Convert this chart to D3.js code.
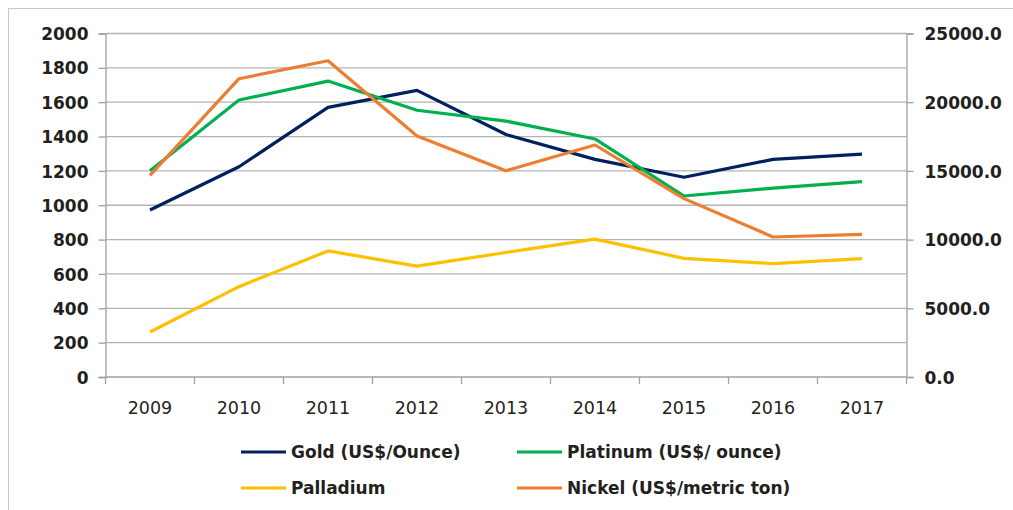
<!DOCTYPE html>
<html>
	<head>
		<meta charset="utf-8"/>
		<script type="text/javascript" src="https://cdn.jsdelivr.net/npm/d3@7/dist/d3.min.js"></script>
		<style>
			body {
				margin:0;
				background:#fff;
			}
			.ylab {
				font:bold 17px "DejaVu Sans", Verdana, sans-serif;
				fill:#231f20;
			}
			.xlab {
				font:17.5px "DejaVu Sans", Verdana, sans-serif;
				fill:#231f20;
				text-anchor:middle;
			}
			.legend text {
				font:bold 17px "DejaVu Sans", Verdana, sans-serif;
				fill:#231f20;
			}
		</style>
	</head>
	<body>
		<script>
			var years = ["2009", "2010", "2011", "2012", "2013", "2014", "2015", "2016", "2017"];
			var gold = [972, 1224, 1570, 1669, 1412, 1267, 1163, 1267, 1298];
			var platinum = [1201, 1613, 1723, 1553, 1490, 1386, 1054, 1100, 1137];
			var palladium = [262, 526, 734, 646, 725, 803, 691, 660, 689];
			var nickel = [14680, 21710, 23020, 17540, 15015, 16885, 12980, 10190, 10380];
			var leftTicks = [0, 200, 400, 600, 800, 1000, 1200, 1400, 1600, 1800, 2000];
			var rightTicks = [0, 5000, 10000, 15000, 20000, 25000];

			var width = 1013, height = 510;
			var plotLeft = 105.5, plotRight = 906.5, plotTop = 33.5, plotBottom = 377;

			var svg = d3.select("body").append("svg")
				.attr("width", width)
				.attr("height", height);

			// chart frame
			svg.append("rect")
				.attr("x", 8.5).attr("y", 8.5)
				.attr("width", 1030).attr("height", 530)
				.attr("fill", "none")
				.attr("stroke", "#c8c8c8");

			var x = d3.scaleBand().domain(years).range([plotLeft, plotRight]);
			var yL = d3.scaleLinear().domain([0, 2000]).range([plotBottom, plotTop]);
			var yR = d3.scaleLinear().domain([0, 25000]).range([plotBottom, plotTop]);

			// gridlines
			svg.append("g").selectAll("line")
				.data(leftTicks.slice(1))
				.enter().append("line")
				.attr("x1", plotLeft).attr("x2", plotRight)
				.attr("y1", function(d) { return yL(d); })
				.attr("y2", function(d) { return yL(d); })
				.attr("stroke", "#b4b4b4")
				.attr("stroke-width", 1.3);

			// left axis
			var axL = svg.append("g")
				.attr("transform", "translate(" + plotLeft + ",0)")
				.call(d3.axisLeft(yL).tickValues(leftTicks).tickSize(7).tickPadding(10).tickFormat(d3.format("d")));
			axL.selectAll("line, path").attr("stroke", "#a0a0a0").attr("stroke-width", 1.3);
			axL.selectAll("text").attr("class", "ylab").attr("dy", "0.36em").attr("fill", null);

			// right axis
			var axR = svg.append("g")
				.attr("transform", "translate(" + plotRight + ",0)")
				.call(d3.axisRight(yR).tickValues(rightTicks).tickSize(7).tickPadding(11).tickFormat(d3.format(".1f")));
			axR.selectAll("line, path").attr("stroke", "#a0a0a0").attr("stroke-width", 1.3);
			axR.selectAll("text").attr("class", "ylab").attr("dy", "0.36em").attr("fill", null);

			// bottom axis
			var axB = svg.append("g")
				.attr("transform", "translate(0," + plotBottom + ")");
			axB.append("line")
				.attr("x1", plotLeft).attr("x2", plotRight)
				.attr("stroke", "#a0a0a0").attr("stroke-width", 1.3);
			axB.selectAll(".tk")
				.data(years.concat(["end"]))
				.enter().append("line")
				.attr("x1", function(d, i) { return i < years.length ? x(d) : plotRight; })
				.attr("x2", function(d, i) { return i < years.length ? x(d) : plotRight; })
				.attr("y1", 0).attr("y2", 7)
				.attr("stroke", "#a0a0a0").attr("stroke-width", 1.3);
			axB.selectAll("text")
				.data(years)
				.enter().append("text")
				.attr("class", "xlab")
				.attr("x", function(d) { return x(d) + x.bandwidth() / 2; })
				.attr("y", 37)
				.text(function(d) { return d; });

			var cx = function(i) { return x(years[i]) + x.bandwidth() / 2; };

			var series = [
				{name: "Gold (US$/Ounce)", values: gold, y: yL, color: "#002060"},
				{name: "Platinum (US$/ ounce)", values: platinum, y: yL, color: "#00b050"},
				{name: "Palladium", values: palladium, y: yL, color: "#ffc000"},
				{name: "Nickel (US$/metric ton)", values: nickel, y: yR, color: "#ed7d31"}
			];

			// draw order follows the reference overlaps
			[2, 0, 1, 3].forEach(function(k) {
				var s = series[k];
				var line = d3.line()
					.x(function(d, i) { return cx(i); })
					.y(function(d) { return s.y(d); });
				svg.append("path")
					.datum(s.values)
					.attr("d", line)
					.attr("fill", "none")
					.attr("stroke", s.color)
					.attr("stroke-width", 3.2)
					.attr("stroke-linejoin", "round");
			});

			// legend
			var legPos = [[241, 452], [517, 452], [241, 488], [517, 488]];
			var legend = svg.append("g").attr("class", "legend");
			series.forEach(function(s, i) {
				var g = legend.append("g")
					.attr("transform", "translate(" + legPos[i][0] + "," + legPos[i][1] + ")");
				g.append("line")
					.attr("x1", 0).attr("x2", 45)
					.attr("stroke", s.color)
					.attr("stroke-width", 3.2);
				g.append("text")
					.attr("x", 50)
					.attr("dy", "0.36em")
					.text(s.name);
			});
		</script>
	</body>
</html>
